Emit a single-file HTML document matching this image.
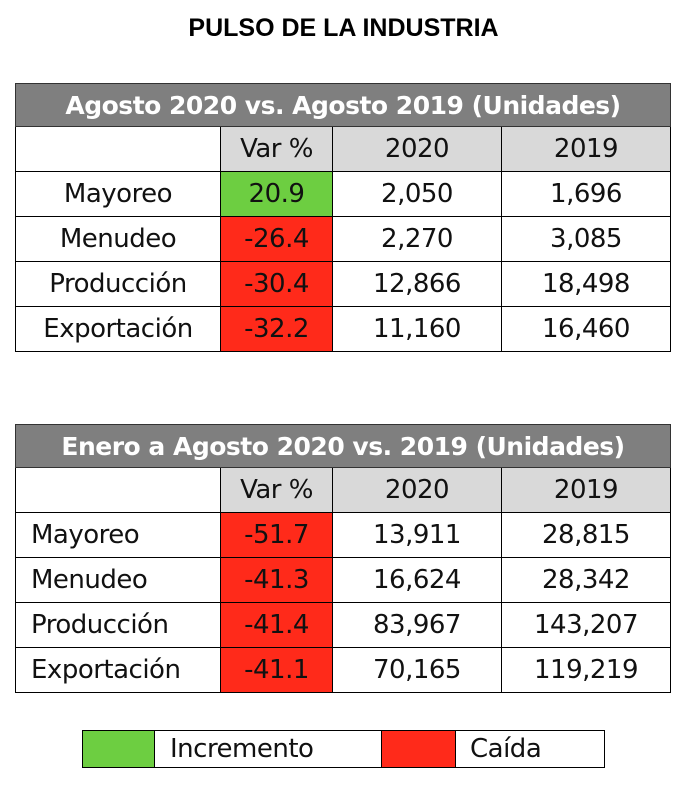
<!DOCTYPE html>
<html><head><meta charset="utf-8"><style>
body{margin:0;width:687px;height:798px;background:#fff;font-family:"DejaVu Sans","Liberation Sans",sans-serif;position:relative;overflow:hidden}
.t{position:absolute;left:0;width:687px;text-align:center;top:14px;font-weight:bold;font-size:25px;font-family:"Liberation Sans",sans-serif;color:#000}
.c{position:absolute;box-sizing:border-box;display:flex;align-items:center;justify-content:center;font-size:26px;color:#111;letter-spacing:-0.5px}
.h{background:#7f7f7f;color:#fff;font-weight:bold;font-size:25px;border:1px solid #333}
.g{background:#d9d9d9}.gr{background:#6dce41}.rd{background:#ff2a1a}
.b{border-right:1px solid #000;border-bottom:1px solid #000}
.l{border-left:1px solid #000}
</style></head><body>
<div class="t">PULSO DE LA INDUSTRIA</div>
<div id="a"></div>
<script>
function tbl(top,title,rows,leftAlign){
 let h='';
 h+=`<div class="c h" style="left:15px;top:${top}px;width:656px;height:44px">${title}</div>`;
 const xs=[15,221,333,502,671];
 const hdr=['','Var %','2020','2019'];
 let y=top+44;
 for(let i=0;i<4;i++){h+=`<div class="c b ${i==0?'l':'g'}" style="left:${xs[i]}px;top:${y}px;width:${xs[i+1]-xs[i]}px;height:45px">${hdr[i]}</div>`}
 y+=45;
 rows.forEach(r=>{
  for(let i=0;i<4;i++){
   let cls='b'+(i==0?' l':'')+(i==1?(r[1][0]=='-'?' rd':' gr'):'');
   let st=(i==0&&leftAlign)?'justify-content:flex-start;padding-left:15px;':'';
   h+=`<div class="c ${cls}" style="${st}left:${xs[i]}px;top:${y}px;width:${xs[i+1]-xs[i]}px;height:45px">${r[i]}</div>`}
  y+=45;});
 return h;
}
document.getElementById('a').innerHTML=
tbl(83,'Agosto 2020 vs. Agosto 2019 (Unidades)',[['Mayoreo','20.9','2,050','1,696'],['Menudeo','-26.4','2,270','3,085'],['Producción','-30.4','12,866','18,498'],['Exportación','-32.2','11,160','16,460']],false)+
tbl(424,'Enero a Agosto 2020 vs. 2019 (Unidades)',[['Mayoreo','-51.7','13,911','28,815'],['Menudeo','-41.3','16,624','28,342'],['Producción','-41.4','83,967','143,207'],['Exportación','-41.1','70,165','119,219']],true)+
`<div class="c gr" style="left:82px;top:730px;width:73px;height:38px;border:1px solid #000"></div>
<div class="c" style="left:154px;top:730px;width:228px;height:38px;border:1px solid #000;border-left:none;justify-content:flex-start;padding-left:16px">Incremento</div>
<div class="c rd" style="left:381px;top:730px;width:75px;height:38px;border:1px solid #000"></div>
<div class="c" style="left:455px;top:730px;width:150px;height:38px;border:1px solid #000;border-left:none;justify-content:flex-start;padding-left:15px">Caída</div>`;
</script>
</body></html>
